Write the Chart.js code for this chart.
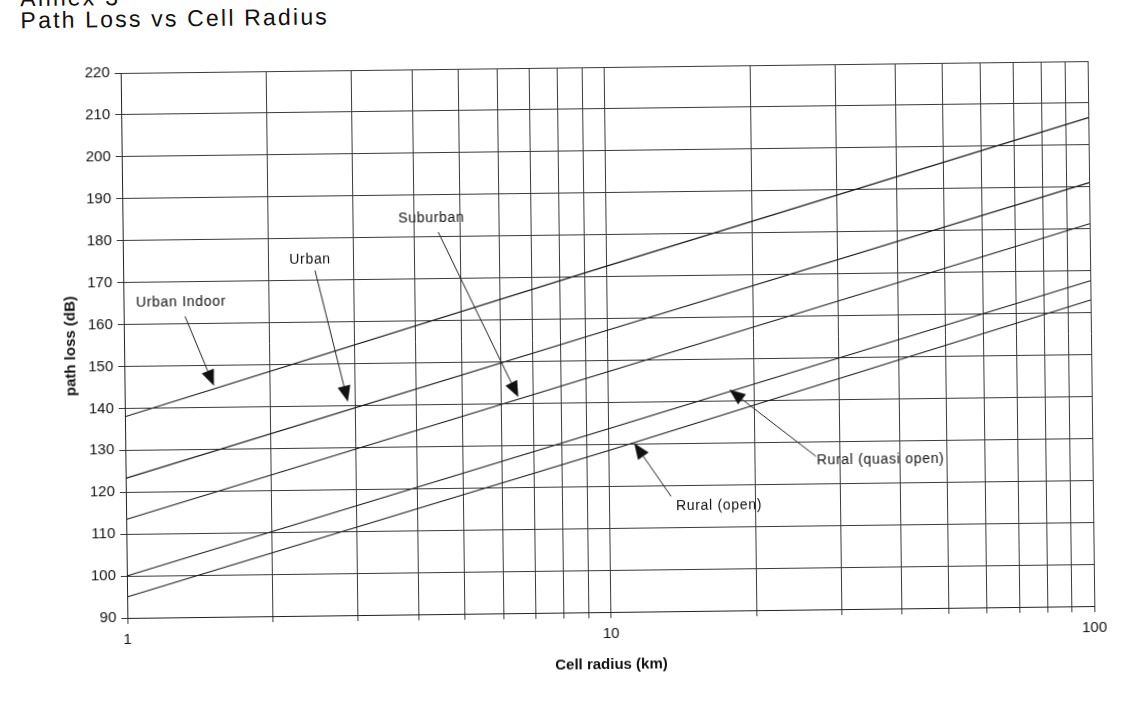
<!DOCTYPE html>
<html>
<head>
<meta charset="utf-8">
<script src="https://cdn.jsdelivr.net/npm/chart.js@4/dist/chart.umd.min.js"></script>
<style>
  html, body { margin: 0; padding: 0; background: #fff; overflow: hidden; width: 1122px; height: 723px; }
  #wrap { position: relative; width: 1122px; height: 723px; background: transparent;
          transform: rotate(-0.705deg); transform-origin: 607.5px 339.8px; }
  .hdr { position: absolute; left: 24.5px; font: 23px/26px "Liberation Sans", Arial, Helvetica, sans-serif;
         letter-spacing: 2.2px; color: #111; white-space: nowrap; }
  #annex { top: -22px; }
  #title { top: 0px; }
  canvas { position: absolute; left: 0; top: 0; }
</style>
</head>
<body>
<div id="wrap">
  <div id="annex" class="hdr">Annex 3</div>
  <div id="title" class="hdr">Path Loss vs Cell Radius</div>
  <canvas id="c" width="1122" height="723"></canvas>
</div>
<script>
// ---- data ----
const radiusKm       = [1, 10, 100];
const urbanIndoor    = [138.0, 172.5, 206.5];
const urban          = [123.3, 157.2, 191.0];
const suburban       = [113.5, 147.3, 181.2];
const ruralQuasiOpen = [100.0, 133.7, 167.6];
const ruralOpen      = [95.0, 128.5, 163.0];

const seriesNames  = ["Urban Indoor", "Urban", "Suburban", "Rural (quasi open)", "Rural (open)"];
const seriesValues = [urbanIndoor, urban, suburban, ruralQuasiOpen, ruralOpen];

const xTickValues = [1,2,3,4,5,6,7,8,9,10,20,30,40,50,60,70,80,90,100];
const xTickLabels = [1, 10, 100];

// annotation labels: text baseline-left anchor, leader-line start, arrow tip (data coordinates)
const annLabels = ["Urban Indoor", "Urban", "Suburban", "Rural (quasi open)", "Rural (open)"];
const annTextX  = [1.061, 2.207, 3.717, 26.89, 13.72];
const annTextY  = [164.1, 174.0, 183.4, 124.5, 114.2];
const annFromX  = [1.339, 2.494, 4.494, 26.82, 13.41];
const annFromY  = [161.75, 172.3, 181.1, 126.5, 117.4];
const annTipX   = [1.531, 2.894, 6.518, 17.81, 11.29];
const annTipY   = [145.1, 140.9, 141.5, 142.7, 130.2];

const FONT = '"Liberation Sans", Arial, Helvetica, sans-serif';

const annotationPlugin = {
  id: 'arrows',
  afterDatasetsDraw(chart) {
    const ctx = chart.ctx;
    const xs = chart.scales.x, ys = chart.scales.y;
    ctx.save();
    ctx.fillStyle = '#111';
    ctx.strokeStyle = '#222';
    ctx.lineWidth = 1;
    ctx.font = '14px ' + FONT;
    try { ctx.letterSpacing = '0.7px'; } catch (e) {}
    ctx.textBaseline = 'alphabetic';
    ctx.textAlign = 'left';
    for (let i = 0; i < annLabels.length; i++) {
      const tx = xs.getPixelForValue(annTextX[i]);
      const ty = ys.getPixelForValue(annTextY[i]);
      ctx.fillText(annLabels[i], tx, ty);
      const fx = xs.getPixelForValue(annFromX[i]);
      const fy = ys.getPixelForValue(annFromY[i]);
      const px = xs.getPixelForValue(annTipX[i]);
      const py = ys.getPixelForValue(annTipY[i]);
      const ang = Math.atan2(py - fy, px - fx);
      const L = 16, W = 6.5;
      const bx = px - L * Math.cos(ang), by = py - L * Math.sin(ang);
      ctx.beginPath();
      ctx.moveTo(fx, fy);
      ctx.lineTo(bx, by);
      ctx.stroke();
      ctx.beginPath();
      ctx.moveTo(px, py);
      ctx.lineTo(bx + W * Math.sin(ang), by - W * Math.cos(ang));
      ctx.lineTo(bx - W * Math.sin(ang), by + W * Math.cos(ang));
      ctx.closePath();
      ctx.fill();
    }
    ctx.restore();
  }
};

const datasets = seriesNames.map((name, s) => ({
  label: name,
  data: radiusKm.map((r, i) => ({ x: r, y: seriesValues[s][i] })),
  borderColor: '#151515',
  borderWidth: 1.1,
  pointRadius: 0,
  fill: false,
  tension: 0
}));

new Chart(document.getElementById('c'), {
  type: 'line',
  data: { datasets },
  options: {
    responsive: false,
    animation: false,
    devicePixelRatio: 1,
    layout: { padding: { left: 58, right: 31, top: 67, bottom: 45 } },
    plugins: { legend: { display: false }, tooltip: { enabled: false } },
    scales: {
      x: {
        type: 'logarithmic',
        min: 1, max: 100,
        afterBuildTicks(scale) { scale.ticks = xTickValues.map(v => ({ value: v })); },
        afterFit(scale) { scale.height = 66; },
        ticks: {
          autoSkip: false, maxRotation: 0, minRotation: 0, padding: 7,
          color: '#111', font: { family: FONT, size: 15 },
          callback(v) { return xTickLabels.includes(v) ? String(v) : ''; }
        },
        grid: { color: '#3a3a3a', lineWidth: 1, tickLength: 6 },
        border: { color: '#222', width: 1 },
        title: { display: true, text: 'Cell radius (km)', color: '#111', font: { family: FONT, size: 15, weight: 'bold' }, padding: 4 }
      },
      y: {
        min: 90, max: 220,
        afterFit(scale) { scale.width = 66; },
        ticks: { stepSize: 10, padding: 5, color: '#111', font: { family: FONT, size: 15 } },
        grid: { color: '#3a3a3a', lineWidth: 1, tickLength: 6 },
        border: { color: '#222', width: 1 },
        title: { display: true, text: 'path loss (dB)', color: '#111', font: { family: FONT, size: 15, weight: 'bold' }, padding: 4 }
      }
    }
  },
  plugins: [annotationPlugin]
});
</script>
</body>
</html>
